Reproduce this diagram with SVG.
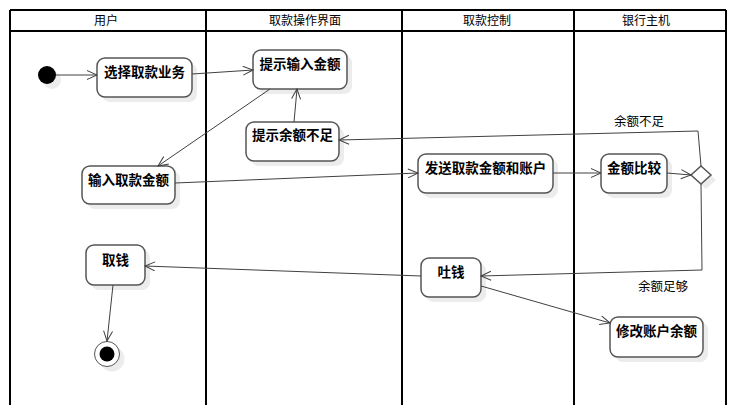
<svg xmlns="http://www.w3.org/2000/svg" width="736" height="416" viewBox="0 0 736 416">
<defs>
<style>
.lane{stroke:#000;stroke-width:2;fill:none}
.hdr{font-family:"Liberation Sans","Noto Sans CJK SC",sans-serif;font-size:12px;fill:#000;text-anchor:middle}
.node{fill:#fff;stroke:#555;stroke-width:1.5}
.shadow{fill:#ececec;stroke:none}
.lbl{font-family:"Noto Sans CJK SC",sans-serif;font-size:13.5px;font-weight:bold;fill:#000;text-anchor:middle}
.guard{font-family:"Noto Sans CJK SC",sans-serif;font-size:12.5px;fill:#000;text-anchor:middle}
.edge{stroke:#404040;stroke-width:1;fill:none;marker-end:url(#arr)}
</style>
<marker id="arr" markerUnits="userSpaceOnUse" markerWidth="14" markerHeight="12" refX="11" refY="5" orient="auto">
<path d="M1,0.5 L11,5 L1,9.5" fill="none" stroke="#404040" stroke-width="1"/>
</marker>
</defs>
<rect width="736" height="416" fill="#fff"/>
<g id="swimlanes">
<line class="lane" x1="10" y1="10" x2="726" y2="10"/>
<line class="lane" x1="10" y1="31" x2="726" y2="31"/>
<line class="lane" x1="10" y1="10" x2="10" y2="405"/>
<line class="lane" x1="206" y1="10" x2="206" y2="405"/>
<line class="lane" x1="402" y1="10" x2="402" y2="405"/>
<line class="lane" x1="574" y1="10" x2="574" y2="405"/>
<line class="lane" x1="726" y1="10" x2="726" y2="405"/>
<text class="hdr" x="106" y="25">用户</text>
<text class="hdr" x="305" y="25">取款操作界面</text>
<text class="hdr" x="487" y="25">取款控制</text>
<text class="hdr" x="646" y="25">银行主机</text>
</g>
<g id="start">
<circle class="shadow" cx="52" cy="80" r="9"/>
<circle cx="47" cy="75" r="9" fill="#000"/>
</g>
<g id="n_select">
<rect class="shadow" x="102" y="63" width="95" height="39" rx="8"/>
<rect class="node" x="97" y="58" width="95" height="39" rx="8"/>
<text class="lbl" x="144.5" y="77">选择取款业务</text>
</g>
<g id="n_prompt">
<rect class="shadow" x="258" y="55" width="94" height="39" rx="8"/>
<rect class="node" x="253" y="50" width="94" height="39" rx="8"/>
<text class="lbl" x="300" y="69">提示输入金额</text>
</g>
<g id="n_insufficient">
<rect class="shadow" x="251" y="127" width="93" height="39" rx="8"/>
<rect class="node" x="246" y="122" width="93" height="39" rx="8"/>
<text class="lbl" x="292.5" y="140">提示余额不足</text>
</g>
<g id="n_input">
<rect class="shadow" x="87" y="171" width="93" height="38" rx="8"/>
<rect class="node" x="82" y="166" width="93" height="38" rx="8"/>
<text class="lbl" x="128.5" y="185">输入取款金额</text>
</g>
<g id="n_send">
<rect class="shadow" x="423" y="159" width="135" height="39" rx="8"/>
<rect class="node" x="418" y="154" width="135" height="39" rx="8"/>
<text class="lbl" x="485.5" y="173">发送取款金额和账户</text>
</g>
<g id="n_compare">
<rect class="shadow" x="606" y="159" width="66" height="39" rx="8"/>
<rect class="node" x="601" y="154" width="66" height="39" rx="8"/>
<text class="lbl" x="634" y="173">金额比较</text>
</g>
<g id="n_decision">
<path class="shadow" d="M706,171 L716,180 L706,189 L696,180 Z"/>
<path class="node" d="M701,166 L711,175 L701,184 L691,175 Z"/>
</g>
<g id="n_take">
<rect class="shadow" x="91" y="250" width="59" height="40" rx="8"/>
<rect class="node" x="86" y="245" width="59" height="40" rx="8"/>
<text class="lbl" x="115.5" y="265">取钱</text>
</g>
<g id="n_dispense">
<rect class="shadow" x="426" y="263" width="60" height="39" rx="8"/>
<rect class="node" x="421" y="258" width="60" height="39" rx="8"/>
<text class="lbl" x="451" y="277">吐钱</text>
</g>
<g id="n_update">
<rect class="shadow" x="615" y="322" width="93" height="40" rx="8"/>
<rect class="node" x="610" y="317" width="93" height="40" rx="8"/>
<text class="lbl" x="656.5" y="336">修改账户余额</text>
</g>
<g id="end">
<circle class="shadow" cx="112" cy="359" r="12.5"/>
<circle cx="107" cy="354" r="12.5" fill="#fff" stroke="#555" stroke-width="1"/>
<circle cx="107" cy="354" r="7.5" fill="#000"/>
</g>
<g id="connectors">
<line class="edge" x1="56" y1="75" x2="97" y2="75"/>
<line class="edge" x1="192" y1="74" x2="253" y2="70"/>
<line class="edge" x1="270" y1="89" x2="158" y2="166"/>
<line class="edge" x1="294" y1="122" x2="297" y2="89"/>
<polyline class="edge" points="701,166 698,131 339,140"/>
<line class="edge" x1="175" y1="183" x2="418" y2="173"/>
<line class="edge" x1="553" y1="173" x2="601" y2="173"/>
<line class="edge" x1="667" y1="173" x2="691" y2="175"/>
<polyline class="edge" points="701,184 702,270 481,276"/>
<line class="edge" x1="421" y1="276" x2="145" y2="266"/>
<line class="edge" x1="481" y1="286" x2="610" y2="323"/>
<line class="edge" x1="113" y1="285" x2="107" y2="341"/>
<text class="guard" x="639" y="126">余额不足</text>
<text class="guard" x="663" y="291">余额足够</text>
</g>
</svg>
